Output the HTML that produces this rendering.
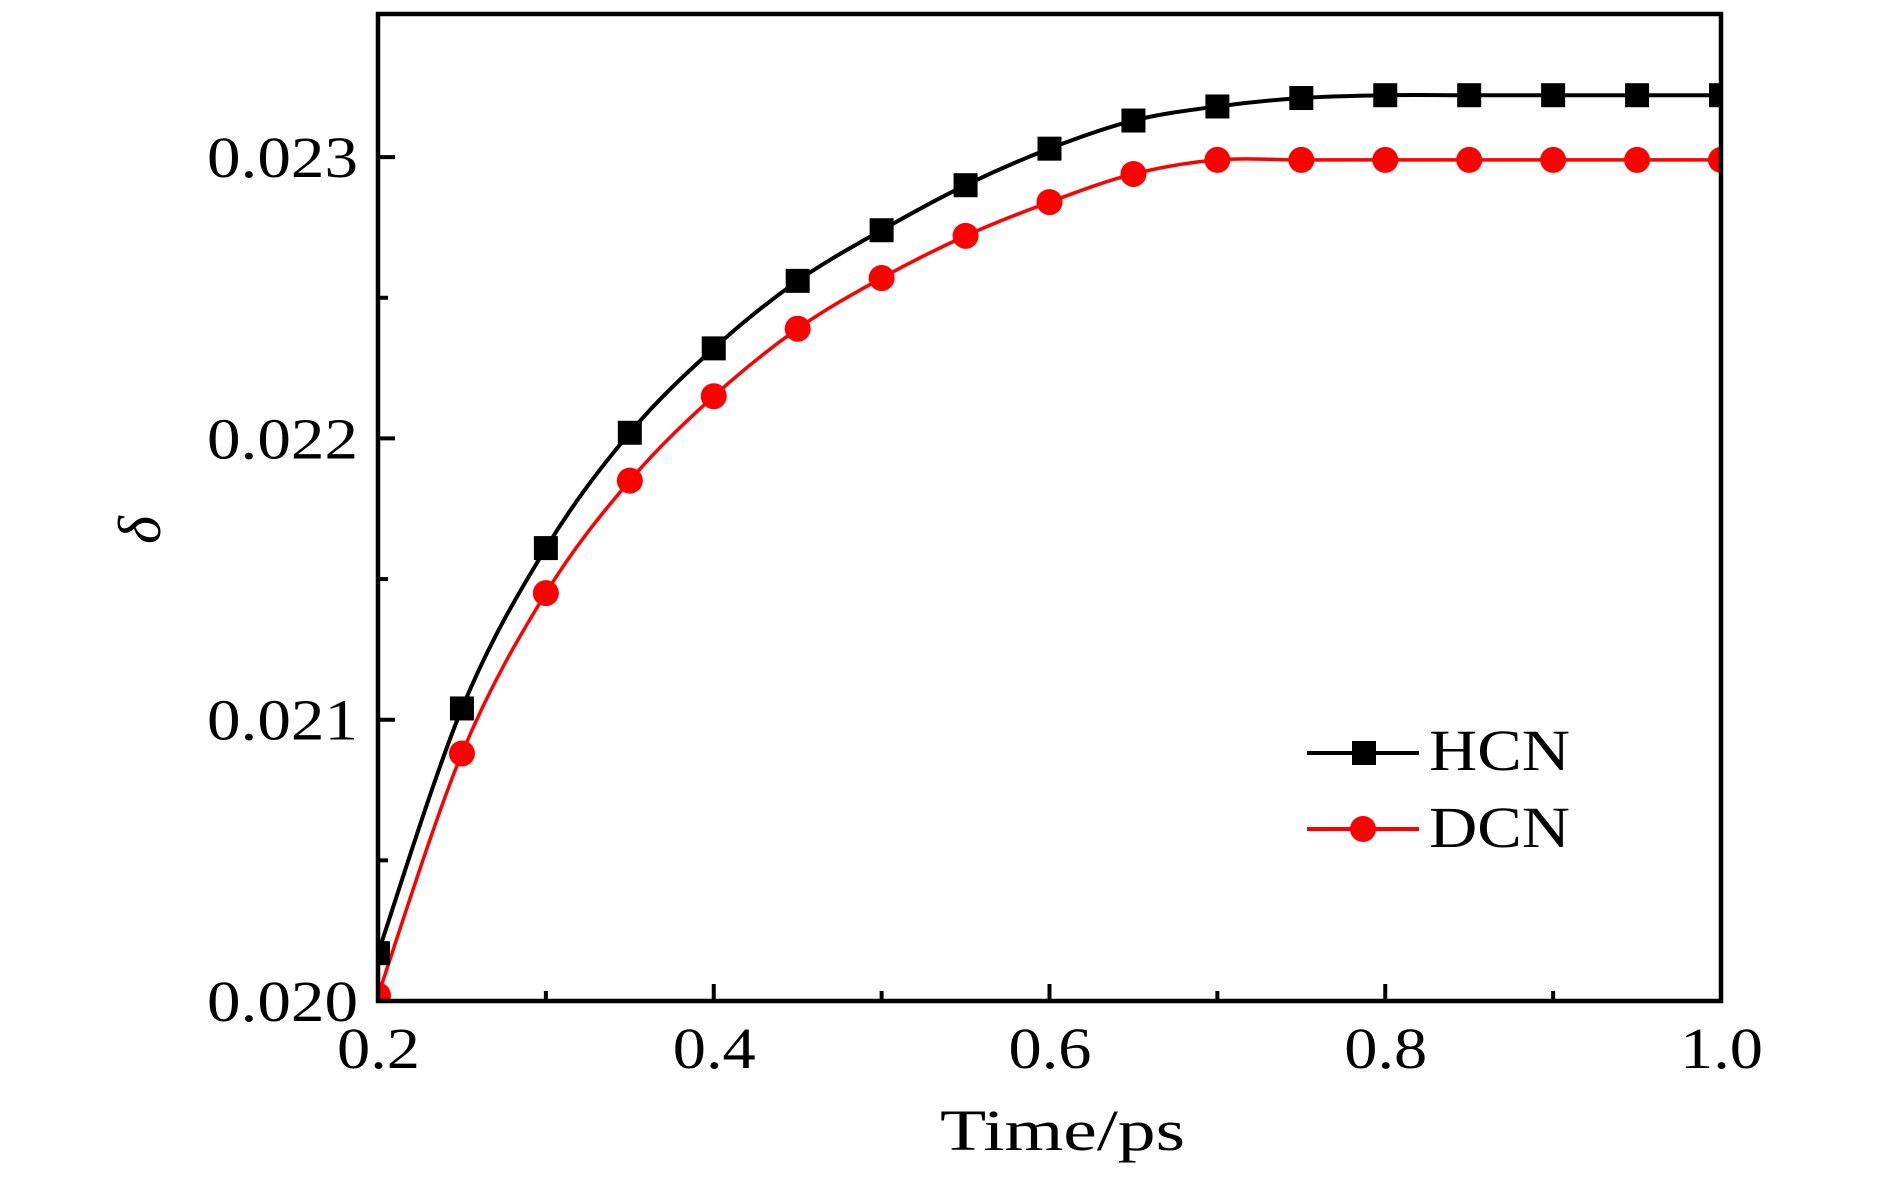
<!DOCTYPE html>
<html><head><meta charset="utf-8"><style>
html,body{margin:0;padding:0;background:#fff;}
svg{display:block;font-family:"Liberation Serif",serif;}
</style></head><body>
<svg id="chart" width="1890" height="1181" viewBox="0 0 1890 1181">
<defs><clipPath id="plotclip"><rect x="378" y="14" width="1343" height="987"/></clipPath></defs>
<g id="series" clip-path="url(#plotclip)"></g>
<g id="axes"></g>
<text x="160" y="530" font-size="60" font-style="italic" text-anchor="middle" transform="rotate(-90 160 530)">δ</text>
<text x="940" y="1150" font-size="58" textLength="245" lengthAdjust="spacingAndGlyphs">Time/ps</text>
<g>
<g>
<line x1="1307" y1="753" x2="1419" y2="753" stroke="#000" stroke-width="4"/>
<rect x="1352" y="741" width="24" height="24" fill="#000"/>
<text x="1429" y="770" font-size="58" textLength="141" lengthAdjust="spacingAndGlyphs">HCN</text></g>
<g>
<line x1="1307" y1="829" x2="1419" y2="829" stroke="#f00" stroke-width="4"/>
<circle cx="1363" cy="829" r="13" fill="#f00"/>
<text x="1429" y="847" font-size="58" textLength="141" lengthAdjust="spacingAndGlyphs">DCN</text></g>
</g>
</svg>
<script>
const times=[0.2,0.25,0.3,0.35,0.4,0.45,0.5,0.55,0.6,0.65,0.7,0.75,0.8,0.85,0.9,0.95,1.0];
const hcn=[0.02017,0.02104,0.02161,0.02202,0.02232,0.02256,0.02274,0.02290,0.02303,0.02313,0.02318,0.02321,0.02322,0.02322,0.02322,0.02322,0.02322];
const dcn=[0.02002,0.02088,0.02145,0.02185,0.02215,0.02239,0.02257,0.02272,0.02284,0.02294,0.02299,0.02299,0.02299,0.02299,0.02299,0.02299,0.02299];
const xTicks=[0.2,0.4,0.6,0.8,1.0];
const xTickLabels=["0.2","0.4","0.6","0.8","1.0"];
const xMinor=[0.3,0.5,0.7,0.9];
const yTicks=[0.020,0.021,0.022,0.023];
const yTickLabels=["0.020","0.021","0.022","0.023"];
const yMinor=[0.0205,0.0215,0.0225];

const X0=378,X1=1721,Y0=1001,Y1=14;
function sx(v){return X0+(v-0.2)/0.8*(X1-X0);}
function sy(v){return 1001-(v-0.020)/0.001*281.3;}
const NS="http://www.w3.org/2000/svg";
function mk(tag,attrs,parent){const e=document.createElementNS(NS,tag);for(const k in attrs)e.setAttribute(k,attrs[k]);parent.appendChild(e);return e;}
const axes=document.getElementById('axes');
const series=document.getElementById('series');

function smoothPath(xs,ys){
  const p=xs.map((x,i)=>[sx(x),sy(ys[i])]);
  let d="M"+p[0][0]+","+p[0][1];
  for(let i=0;i<p.length-1;i++){
    const p0=p[Math.max(0,i-1)],p1=p[i],p2=p[i+1],p3=p[Math.min(p.length-1,i+2)];
    const c1x=p1[0]+(p2[0]-p0[0])/6,c1y=p1[1]+(p2[1]-p0[1])/6;
    const c2x=p2[0]-(p3[0]-p1[0])/6,c2y=p2[1]-(p3[1]-p1[1])/6;
    d+=" C"+c1x+","+c1y+" "+c2x+","+c2y+" "+p2[0]+","+p2[1];
  }
  return d;
}
const lh=mk('path',{d:smoothPath(times,hcn),fill:'none',stroke:'#000','stroke-width':4},series);


const ld=mk('path',{d:smoothPath(times,dcn),fill:'none',stroke:'#f00','stroke-width':3.5},series);


times.forEach((t,i)=>{
  const r=mk('rect',{x:sx(t)-12,y:sy(hcn[i])-12,width:24,height:24,fill:'#000'},series);
  
  
  const c=mk('circle',{cx:sx(t),cy:sy(dcn[i]),r:13,fill:'#f00'},series);
  
  
});
const fr=mk('rect',{x:X0,y:Y1,width:X1-X0,height:Y0-Y1,fill:'none',stroke:'#000','stroke-width':4.5},axes);


xTicks.forEach((v,i)=>{
  const t=mk('line',{x1:sx(v),y1:Y0,x2:sx(v),y2:Y0-17,stroke:'#000','stroke-width':4},axes);
  
  
  const l=mk('text',{x:sx(v)-41,y:1068,'font-size':58,textLength:83,lengthAdjust:'spacingAndGlyphs'},axes);
  l.textContent=xTickLabels[i];
  
  
});
xMinor.forEach(v=>{
  const t=mk('line',{x1:sx(v),y1:Y0,x2:sx(v),y2:Y0-10,stroke:'#000','stroke-width':4},axes);
  
  
});
yTicks.forEach((v,i)=>{
  const t=mk('line',{x1:X0,y1:sy(v),x2:X0+17,y2:sy(v),stroke:'#000','stroke-width':4},axes);
  
  
  const l=mk('text',{x:207,y:sy(v)+20,'font-size':58,textLength:151,lengthAdjust:'spacingAndGlyphs'},axes);
  l.textContent=yTickLabels[i];
  
  
});
yMinor.forEach(v=>{
  const t=mk('line',{x1:X0,y1:sy(v),x2:X0+10,y2:sy(v),stroke:'#000','stroke-width':4},axes);
  
  
});
</script>
</body></html>
